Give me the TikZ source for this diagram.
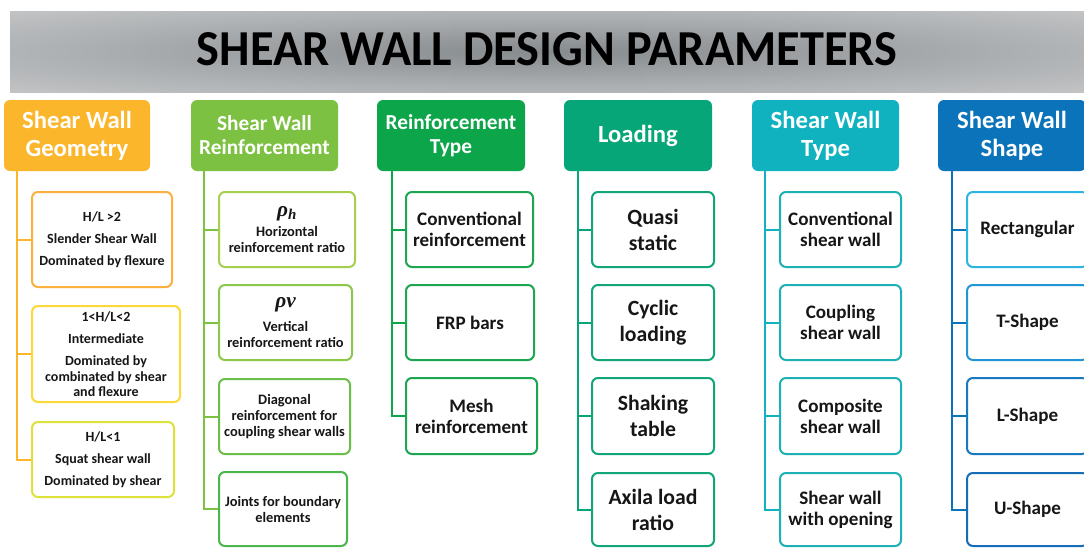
\documentclass[tikz,border=0pt]{standalone}
\usepackage{fontspec}
\setmainfont{Carlito}
\newfontfamily\grk{Liberation Serif}
\usepackage{graphicx}
\definecolor{bnC}{HTML}{868B8E}
\definecolor{bnM}{HTML}{ADB0B2}
\definecolor{bnE}{HTML}{D0D1D3}
\definecolor{hA}{HTML}{FBB62B}
\definecolor{hB}{HTML}{7DC142}
\definecolor{hC}{HTML}{0DA54A}
\definecolor{hD}{HTML}{06A678}
\definecolor{hE}{HTML}{10B2BF}
\definecolor{hF}{HTML}{0B73BA}
\definecolor{a1}{HTML}{FBB040}
\definecolor{a2}{HTML}{FBD936}
\definecolor{a3}{HTML}{DDE23A}
\definecolor{b1}{HTML}{A5CF4C}
\definecolor{b2}{HTML}{8BC84A}
\definecolor{b3}{HTML}{6CBE4B}
\definecolor{b4}{HTML}{4BB64D}
\definecolor{cC}{HTML}{1BA64F}
\definecolor{cD}{HTML}{12A57A}
\definecolor{cE}{HTML}{1DB0B4}
\definecolor{f1}{HTML}{2BB5E0}
\definecolor{f2}{HTML}{2196D4}
\definecolor{f3}{HTML}{1979C0}
\definecolor{f4}{HTML}{156DB7}
\definecolor{txt}{HTML}{161616}
\pgfdeclareradialshading{banner}{\pgfpoint{0bp}{0bp}}{color(0bp)=(bnC); color(22bp)=(bnM); color(45bp)=(bnE); color(60bp)=(bnE)}
\newcommand\bx[7]{\node[#6, minimum width={(#4-#2)*0.75pt}, minimum height={(#5-#3)*0.75pt}] (#1) at ({(#2+#4)/2},{(#3+#5)/2}) {#7};}
\tikzset{
  hdr/.style={rounded corners=4.5pt, inner sep=0pt, align=center, text=white, font=\bfseries\fontsize{18.5}{21}\selectfont},
  hdrs/.style={hdr, font=\bfseries\fontsize{16}{18}\selectfont},
  bxs/.style={draw, line width=1.5pt, rounded corners=4.5pt, fill=white, inner sep=0pt, align=center, text=txt},
  fa/.style={bxs, font=\bfseries\fontsize{10.5}{11.6}\selectfont},
  fb/.style={bxs, font=\bfseries\fontsize{10.8}{12}\selectfont},
  fc/.style={bxs, font=\bfseries\fontsize{14.3}{15.75}\selectfont},
  fd/.style={bxs, font=\bfseries\fontsize{16.3}{19.5}\selectfont},
  conn/.style={line width=1.5pt}
}
\begin{document}
\begin{tikzpicture}[x=0.75pt,y=-0.75pt]
\useasboundingbox (0,0) rectangle (1084,547);
\fill[white] (0,0) rectangle (1084,547);
% banner
\shade[shading=banner] (10,11) rectangle (1084,92);
\node[inner sep=0pt] (title) at (547,49.5) {\resizebox{525pt}{24.75pt}{\bfseries SHEAR WALL DESIGN PARAMETERS}};
% headers
\bx{h1}{4}{100}{150}{171}{hdr, fill=hA}{Shear Wall\\Geometry}
\bx{h2}{191}{100}{338}{171}{hdrs, fill=hB}{Shear Wall\\Reinforcement}
\bx{h3}{377}{100}{525}{171}{hdrs, fill=hC}{Reinforcement\\Type}
\bx{h4}{564}{100}{712}{171}{hdr, fill=hD}{Loading}
\bx{h5}{752}{100}{899}{171}{hdr, fill=hE}{Shear Wall\\Type}
\bx{h6}{938}{100}{1086}{171}{hdr, fill=hF}{Shear Wall\\Shape}
% column 1
\bx{g1}{32}{192}{172}{287}{fa, draw=a1}{H/L >2\\[5pt]Slender Shear Wall\\[5pt]Dominated by flexure}
\bx{g2}{32}{306}{180}{402}{fa, draw=a2}{1<H/L<2\\[5pt]Intermediate\\[5pt]Dominated by\\combinated by shear\\and flexure}
\bx{g3}{32}{422}{174}{497}{fa, draw=a3}{H/L<1\\[5pt]Squat shear wall\\[5pt]Dominated by shear}
\coordinate (v1) at (17,171);
\draw[conn, draw=hA] (v1) |- (g3.west);
\draw[conn, draw=hA] (v1 |- g1.west) -- (g1.west);
\draw[conn, draw=hA] (v1 |- g2.west) -- (g2.west);
% column 2
\bx{r1}{219}{192}{355}{267}{fb, draw=b1}{{\grk\bfseries\itshape\fontsize{16}{15}\selectfont ρ\textsubscript{h}}\\[3pt]Horizontal\\reinforcement ratio}
\bx{r2}{219}{285}{352}{360}{fb, draw=b2}{{\grk\bfseries\itshape\fontsize{16}{15}\selectfont ρv}\\[6pt]Vertical\\reinforcement ratio}
\bx{r3}{219}{379}{350}{454}{fb, draw=b3}{Diagonal\\reinforcement for\\coupling shear walls}
\bx{r4}{219}{472}{347}{546}{fb, draw=b4}{Joints for boundary\\elements}
\coordinate (v2) at (204,171);
\draw[conn, draw=hB] (v2) |- (r4.west);
\draw[conn, draw=hB] (v2 |- r1.west) -- (r1.west);
\draw[conn, draw=hB] (v2 |- r2.west) -- (r2.west);
\draw[conn, draw=hB] (v2 |- r3.west) -- (r3.west);
% column 3
\bx{t1}{406}{192}{533}{267}{fc, draw=cC}{Conventional\\reinforcement}
\bx{t2}{406}{285}{534}{360}{fc, draw=cC}{FRP bars}
\bx{t3}{406}{378}{537}{454}{fc, draw=cC}{Mesh\\reinforcement}
\coordinate (v3) at (392,171);
\draw[conn, draw=hC] (v3) |- (t3.west);
\draw[conn, draw=hC] (v3 |- t1.west) -- (t1.west);
\draw[conn, draw=hC] (v3 |- t2.west) -- (t2.west);
% column 4
\bx{l1}{592}{192}{714}{267}{fd, draw=cD}{Quasi\\static}
\bx{l2}{592}{285}{714}{360}{fd, draw=cD}{Cyclic\\loading}
\bx{l3}{592}{378}{714}{454}{fd, draw=cD}{Shaking\\table}
\bx{l4}{592}{473}{714}{546}{fd, draw=cD}{Axila load\\ratio}
\coordinate (v4) at (578,171);
\draw[conn, draw=hD] (v4) |- (l4.west);
\draw[conn, draw=hD] (v4 |- l1.west) -- (l1.west);
\draw[conn, draw=hD] (v4 |- l2.west) -- (l2.west);
\draw[conn, draw=hD] (v4 |- l3.west) -- (l3.west);
% column 5
\bx{w1}{780}{192}{901}{267}{fc, draw=cE}{Conventional\\shear wall}
\bx{w2}{780}{285}{901}{360}{fc, draw=cE}{Coupling\\shear wall}
\bx{w3}{780}{378}{901}{454}{fc, draw=cE}{Composite\\shear wall}
\bx{w4}{780}{473}{901}{546}{fc, draw=cE}{Shear wall\\with opening}
\coordinate (v5) at (765,171);
\draw[conn, draw=hE] (v5) |- (w4.west);
\draw[conn, draw=hE] (v5 |- w1.west) -- (w1.west);
\draw[conn, draw=hE] (v5 |- w2.west) -- (w2.west);
\draw[conn, draw=hE] (v5 |- w3.west) -- (w3.west);
% column 6
\bx{s1}{967}{192}{1088}{267}{fc, draw=f1}{Rectangular}
\bx{s2}{967}{285}{1088}{360}{fc, draw=f2}{T-Shape}
\bx{s3}{967}{378}{1088}{454}{fc, draw=f3}{L-Shape}
\bx{s4}{967}{473}{1088}{546}{fc, draw=f4}{U-Shape}
\coordinate (v6) at (952,171);
\draw[conn, draw=hF] (v6) |- (s4.west);
\draw[conn, draw=hF] (v6 |- s1.west) -- (s1.west);
\draw[conn, draw=hF] (v6 |- s2.west) -- (s2.west);
\draw[conn, draw=hF] (v6 |- s3.west) -- (s3.west);
\end{tikzpicture}
\end{document}
